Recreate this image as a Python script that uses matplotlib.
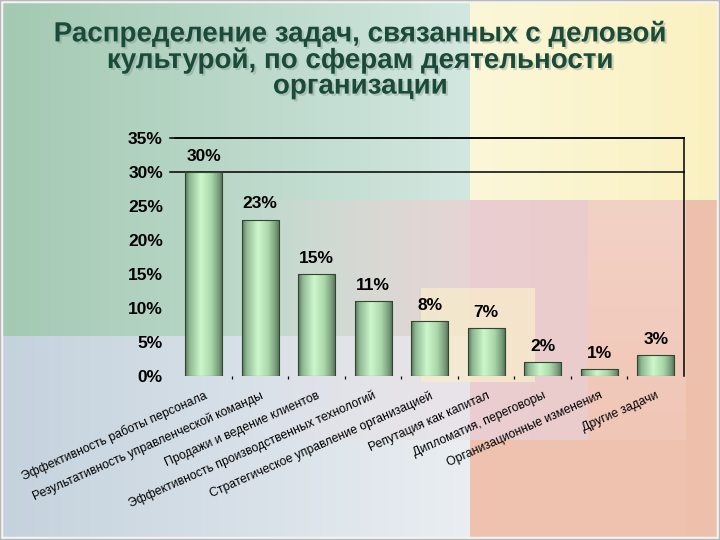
import numpy as np
import matplotlib
matplotlib.use("Agg")
import matplotlib.pyplot as plt
import matplotlib.patheffects as pe
from matplotlib.colors import LinearSegmentedColormap

# ---------------- data ----------------
categories = [
    "Эффективность работы персонала",
    "Результативность управленческой команды",
    "Продажи и ведение клиентов",
    "Эффективность производственных технологий",
    "Стратегическое управление организацией",
    "Репутация как капитал",
    "Дипломатия, переговоры",
    "Организационные изменения",
    "Другие задачи",
]
values = [30, 23, 15, 11, 8, 7, 2, 1, 3]
y_ticks = [0, 5, 10, 15, 20, 25, 30, 35]
y_tick_labels = ["0%", "5%", "10%", "15%", "20%", "25%", "30%", "35%"]
value_labels = ["30%", "23%", "15%", "11%", "8%", "7%", "2%", "1%", "3%"]
title = ("Распределение задач, связанных с деловой\n"
         "культурой, по сферам деятельности\n"
         "организации")

plt.rcParams["font.family"] = ["Liberation Sans", "DejaVu Sans"]

W, H = 720, 540
fig = plt.figure(figsize=(7.2, 5.4), dpi=100)

# ---------------- decorative background ----------------
xx = np.arange(W)[None, :].repeat(H, 0).astype(float)
yy = np.arange(H)[:, None].repeat(W, 1).astype(float)
bg = np.zeros((H, W, 3))


def fill(mask, c1, c2=None, t=None):
    c1 = np.array(c1, float)
    if c2 is None:
        bg[mask] = c1
    else:
        c2 = np.array(c2, float)
        tt = np.clip(t[mask], 0, 1)[:, None]
        bg[mask] = c1 * (1 - tt) + c2 * tt


def blend(mask, c, alpha):
    c = np.array(c, float)
    a = np.clip(alpha[mask], 0, 1)[:, None]
    bg[mask] = bg[mask] * (1 - a) + c * a


fill((xx < 470) & (yy < 336), (163, 201, 178), (210, 231, 224), xx / 470)
fill((xx >= 470) & (yy < 200), (251, 247, 216), (250, 241, 194), (xx - 470) / 250)
fill((xx < 470) & (yy >= 336), (196, 210, 221), (234, 238, 242), xx / 470)
fill((xx >= 470) & (yy >= 200), (238, 194, 174))
m = (xx >= 470) & (xx < 588) & (yy >= 200) & (yy < 440)
fill(m, (233, 206, 209), (236, 204, 204), (xx - 470) / 118)
m = (xx >= 588) & (xx < 686) & (yy >= 200) & (yy < 440)
fill(m, (243, 210, 198), (240, 198, 182), (yy - 200) / 240)
m = (xx >= 686) & (yy >= 200)
fill(m, (237, 192, 172))
m = (xx >= 235) & (xx < 470) & (yy >= 200) & (yy < 336)
blend(m, (236, 206, 208), 0.75 * (xx - 235) / 235)
m = (xx >= 235) & (xx < 470) & (yy >= 336) & (yy < 440)
blend(m, (232, 214, 220), 0.45 * (xx - 235) / 235)
m = (xx >= 421) & (xx < 535) & (yy >= 288) & (yy < 382)
blend(m, (249, 238, 202), np.full_like(xx, 0.7))

axbg = fig.add_axes([0, 0, 1, 1], zorder=-10)
axbg.imshow(bg / 255.0, aspect="auto", extent=[0, W, H, 0])
axbg.add_patch(plt.Rectangle((1, 1), W - 3, H - 3, fill=False,
                             edgecolor="#f4f4f4", lw=2.5))
axbg.add_patch(plt.Rectangle((0, 0), W - 1, H - 1, fill=False,
                             edgecolor="#b8b8b8", lw=1))
axbg.set_xlim(0, W)
axbg.set_ylim(H, 0)
axbg.axis("off")

# ---------------- main chart ----------------
left, right, top, bottom = 175.4, 684.0, 138.3, 375.7
ax = fig.add_axes([left / W, 1 - bottom / H, (right - left) / W, (bottom - top) / H])
ax.patch.set_alpha(0)

x = np.arange(len(categories))
bars = ax.bar(x, values, width=0.66, color="none", edgecolor="#2e472e",
              linewidth=0.8, zorder=3)

cmap = LinearSegmentedColormap.from_list(
    "barg", [(0.0, "#55735a"), (0.12, "#8fb892"), (0.42, "#cdf7cc"),
             (0.7, "#a9d6a9"), (0.9, "#769a78"), (1.0, "#4f6b52")])
grad = np.linspace(0, 1, 256)[None, :]
for rect in bars:
    x0, y0 = rect.get_x(), rect.get_y()
    w, h = rect.get_width(), rect.get_height()
    im = ax.imshow(grad, cmap=cmap, aspect="auto", extent=[x0, x0 + w, y0, y0 + h],
                   zorder=2, interpolation="bicubic")
    im.set_clip_path(rect)

ax.set_xlim(-0.5, len(categories) - 0.5)
ax.set_ylim(0, 35)

for s in ["left", "bottom"]:
    ax.spines[s].set_visible(False)
for s in ["top", "right"]:
    ax.spines[s].set_color("black")
    ax.spines[s].set_linewidth(1.1)

# gridline at 30% and tick stubs of top frame
for yv in [30, 35]:
    ax.plot([-0.6, len(categories) - 0.5], [yv, yv], color="black", lw=1.1,
            clip_on=False, zorder=1)

ax.set_yticks(y_ticks)
ax.set_yticklabels(y_tick_labels, fontsize=12.5, fontweight="bold")
ax.tick_params(axis="y", length=0, pad=9)

ax.set_xticks(x)
ax.set_xticklabels(categories, rotation=24, ha="right", va="top",
                   rotation_mode="anchor", fontsize=8.8)
ax.tick_params(axis="x", length=0, pad=10)
ax.set_xticks(np.arange(0.5, len(categories) - 1, 1), minor=True)
ax.tick_params(axis="x", which="minor", length=2.5, width=0.9, direction="out",
               color="black")

ax.bar_label(bars, labels=value_labels, padding=6, fontsize=12.5,
             fontweight="bold", color="black")

fig.text(0.5, 1 - 60 / H, title, ha="center", va="center", fontsize=20,
         fontweight="bold", color="#1a4a38", linespacing=0.98,
         path_effects=[pe.withSimplePatchShadow(offset=(1.5, -1.5),
                                                shadow_rgbFace="#7a8c84", alpha=0.35)])

fig.savefig("out.png", dpi=100)
